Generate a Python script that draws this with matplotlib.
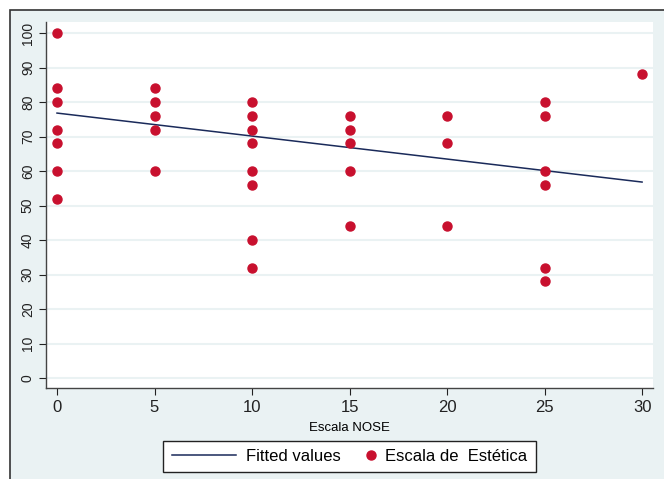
import matplotlib
matplotlib.use('Agg')
import matplotlib.pyplot as plt
from matplotlib.patches import Rectangle
from matplotlib.lines import Line2D
from matplotlib.legend_handler import HandlerBase

plt.rcParams['font.family'] = ['Liberation Sans', 'DejaVu Sans']

# NOSE score (x) and aesthetic score (y)
nose = [0, 0, 0, 0, 0, 0, 0,
        5, 5, 5, 5, 5,
        10, 10, 10, 10, 10, 10, 10, 10,
        15, 15, 15, 15, 15,
        20, 20, 20,
        25, 25, 25, 25, 25, 25,
        30]
estetica = [100, 84, 80, 72, 68, 60, 52,
            84, 80, 76, 72, 60,
            80, 76, 72, 68, 60, 56, 40, 32,
            76, 72, 68, 60, 44,
            76, 68, 44,
            80, 76, 60, 56, 32, 28,
            88]

# fitted values (linear fit)
fit_x = [0, 30]
fit_y = [76.8, 56.8]

x_ticks = [0, 5, 10, 15, 20, 25, 30]
y_ticks = [0, 10, 20, 30, 40, 50, 60, 70, 80, 90, 100]

bg = '#eaf2f3'
red = '#c8102e'
navy = '#1a2a5a'


class RightMarker(HandlerBase):
    # put the legend marker at the right end of the handle box (Stata style)
    def create_artists(self, legend, orig_handle, xdescent, ydescent,
                       width, height, fontsize, trans):
        m = Line2D([width - xdescent - 3], [height / 2 - ydescent],
                   linestyle='none', marker='o', markersize=6.5,
                   markerfacecolor=red, markeredgecolor=red, transform=trans)
        return [m]


fig = plt.figure(figsize=(6.64, 4.79), dpi=100, facecolor='white')

# outer graph region, cropped at right/bottom
fig.patches.append(Rectangle((10 / 664, -0.05), 1.0, 1 - 10 / 479 + 0.05,
                             transform=fig.transFigure, facecolor=bg,
                             edgecolor='#333333', linewidth=1.2, zorder=-5))

ax = fig.add_axes([46 / 664, 1 - 388 / 479, (653 - 46) / 664, (388 - 22) / 479])
ax.set_facecolor('white')
ax.set_xlim(-0.564, 30.56)
ax.set_ylim(-2.9, 103.2)

for y in y_ticks:
    ax.axhline(y, color=bg, linewidth=1.5, zorder=1)

ax.plot(fit_x, fit_y, color=navy, linewidth=1.1, zorder=3)
ax.plot(nose, estetica, linestyle='none', marker='o', markersize=6.5,
        markerfacecolor=red, markeredgecolor=red, zorder=4)

for s in ['top', 'right']:
    ax.spines[s].set_visible(False)
for s in ['left', 'bottom']:
    ax.spines[s].set_color('#444444')
    ax.spines[s].set_linewidth(1.0)

ax.set_xticks(x_ticks)
ax.set_yticks(y_ticks)
ax.set_yticklabels([str(v) for v in y_ticks], rotation=90, va='center', fontsize=10)
ax.tick_params(axis='x', labelsize=12, length=5, width=0.8, pad=4, colors='#222222')
ax.tick_params(axis='y', length=5, width=0.8, pad=3, colors='#222222')
ax.set_xlabel('Escala NOSE', fontsize=9.5, labelpad=5)

fit_handle = Line2D([], [], color=navy, linewidth=1.1)
dot_handle = Line2D([], [], linestyle='none', marker='o')
leg = fig.legend([fit_handle, dot_handle], ['Fitted values', 'Escala de  Estética'],
                 handler_map={dot_handle: RightMarker()},
                 loc='center', bbox_to_anchor=(349.5 / 664, 1 - 456.5 / 479),
                 ncol=2, fontsize=12, frameon=True, fancybox=False,
                 handlelength=3.84, handletextpad=0.6, columnspacing=-1.74,
                 borderpad=0.5, borderaxespad=0, framealpha=1)
leg.get_frame().set_edgecolor('#222222')
leg.get_frame().set_linewidth(1.0)
leg.get_frame().set_facecolor('white')

fig.savefig('out.png', dpi=100, facecolor=fig.get_facecolor())
plt.close(fig)
